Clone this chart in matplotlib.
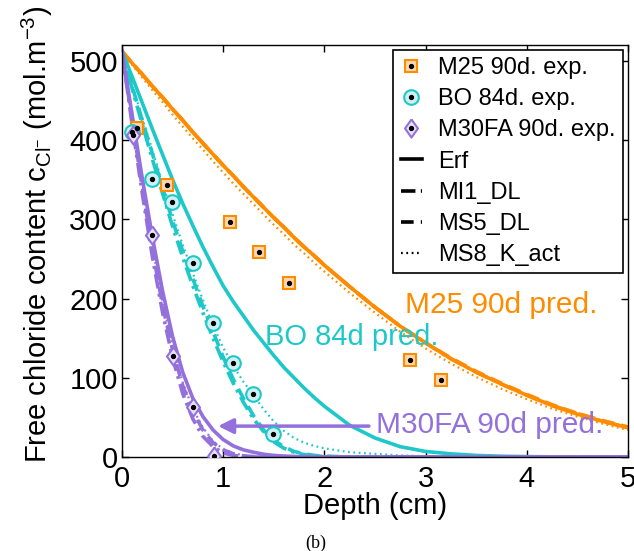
import matplotlib
matplotlib.use("Agg")
import matplotlib.pyplot as plt
from matplotlib.lines import Line2D
from matplotlib.legend_handler import HandlerTuple

plt.rcParams['font.family'] = ['Liberation Sans', 'DejaVu Sans']
plt.rcParams['mathtext.fontset'] = 'custom'
plt.rcParams['mathtext.rm'] = 'Liberation Sans'
plt.rcParams['mathtext.it'] = 'Liberation Sans:italic'

# ---------------- data ----------------
depth = [0, 0.1, 0.2, 0.3, 0.4, 0.5, 0.6, 0.7, 0.8, 0.9, 1.0, 1.1, 1.2, 1.3, 1.4,
         1.5, 1.6, 1.7, 1.8, 1.9, 2.0, 2.25, 2.5, 2.75, 3.0, 3.25, 3.5, 3.75,
         4.0, 4.25, 4.5, 4.75, 5.0]

m25_erf = [512, 497, 483, 468, 454, 439, 425, 410, 396, 382, 368, 355, 341, 328, 315,
           302, 290, 277, 265, 254, 242, 215, 189, 165, 144, 124, 107, 92,
           78, 65, 54, 45, 37]
m25_mi1 = [512, 497, 483, 468, 454, 439, 425, 410, 396, 382, 368, 355, 341, 328, 315,
           302, 290, 277, 265, 254, 242, 215, 189, 165, 144, 124, 107, 92,
           78, 65, 55, 45, 37]
m25_ms5 = [512, 497, 483, 468, 454, 439, 425, 410, 396, 382, 368, 355, 341, 328, 315,
           302, 290, 277, 265, 254, 242, 215, 189, 165, 144, 125, 108, 93,
           79, 66, 55, 46, 38]
m25_ms8 = [512, 495, 479, 463, 448, 432, 417, 402, 388, 373, 359, 345, 332, 319, 306,
           293, 281, 268, 257, 245, 234, 207, 182, 158, 137, 118, 101, 86,
           73, 61, 51, 42, 34]

bo_erf = [512, 480, 447, 414, 382, 350, 320, 292, 265, 240, 216, 196, 178, 160, 144,
          128, 113, 100, 87, 75, 64, 40, 24, 13, 7, 4, 2, 1,
          0.5, 0.2, 0, 0, 0]
bo_mi1 = [512, 465, 420, 376, 333, 291, 252, 216, 182, 150, 120, 93, 69, 48, 32,
          19, 11, 6, 3, 1.5, 0.7, 0, 0, 0, 0, 0, 0, 0,
          0, 0, 0, 0, 0]
bo_ms5 = [512, 468, 425, 383, 340, 298, 260, 225, 190, 158, 126, 98, 74, 52, 34,
          21, 13, 7, 4, 2, 1, 0, 0, 0, 0, 0, 0, 0,
          0, 0, 0, 0, 0]
bo_ms8 = [512, 470, 428, 387, 346, 306, 268, 232, 198, 166, 138, 115, 95, 78, 60,
          45, 33, 24, 18, 14, 11, 6, 4, 2, 1, 0.5, 0, 0,
          0, 0, 0, 0, 0]

fa_erf = [512, 432, 352, 278, 210, 152, 107, 74, 51, 34, 22, 14, 9, 6, 3.5,
          2, 1.2, 0.7, 0.4, 0.2, 0.1, 0, 0, 0, 0, 0, 0, 0,
          0, 0, 0, 0, 0]
fa_mi1 = [512, 420, 333, 253, 183, 125, 80, 48, 26, 13, 5, 2, 0.5, 0, 0,
          0, 0, 0, 0, 0, 0, 0, 0, 0, 0, 0, 0, 0,
          0, 0, 0, 0, 0]
fa_ms5 = [512, 425, 340, 262, 192, 135, 90, 58, 34, 18, 9, 4, 1.5, 0.5, 0,
          0, 0, 0, 0, 0, 0, 0, 0, 0, 0, 0, 0, 0,
          0, 0, 0, 0, 0]
fa_ms8 = [512, 427, 343, 266, 196, 139, 94, 61, 37, 20, 10, 5, 2, 0.7, 0.2,
          0, 0, 0, 0, 0, 0, 0, 0, 0, 0, 0, 0, 0,
          0, 0, 0, 0, 0]

m25_exp_x = [0.15, 0.44, 1.07, 1.35, 1.65, 2.85, 3.15]
m25_exp_y = [415, 343, 297, 259, 219, 123, 97]
bo_exp_x = [0.10, 0.30, 0.49, 0.70, 0.90, 1.10, 1.29, 1.49]
bo_exp_y = [410, 351, 322, 245, 169, 119, 79, 29]
fa_exp_x = [0.11, 0.30, 0.50, 0.70, 0.91]
fa_exp_y = [406, 280, 128, 63, 1]

legend_labels = ['M25 90d. exp.', 'BO 84d. exp.', 'M30FA 90d. exp.',
                 'Erf', 'MI1_DL', 'MS5_DL', 'MS8_K_act']

# ---------------- style ----------------
c_or = '#FF8C00'
c_cy = '#1EC8C8'
c_pu = '#9370DB'
f_or = '#FFD7AE'
f_cy = '#CFF0F0'
f_pu = '#E9E2F7'

fig = plt.figure(figsize=(6.34, 5.51), dpi=100)
ax = fig.add_axes([122/634, 1-457/551, 506/634, 412/551])

lw_thick = 2.6
styles = {'erf': ('-', lw_thick), 'mi1': ((0, (4.0, 1.5, 0.8, 1.5)), lw_thick),
          'ms5': ((0, (3.5, 2.0)), lw_thick), 'ms8': ((0, (0.8, 1.6)), 1.6)}

for col, curves in [(c_or, [m25_erf, m25_mi1, m25_ms5, m25_ms8]),
                    (c_cy, [bo_erf, bo_mi1, bo_ms5, bo_ms8]),
                    (c_pu, [fa_erf, fa_mi1, fa_ms5, fa_ms8])]:
    for key, yv in zip(['erf', 'mi1', 'ms5', 'ms8'], curves):
        ls, lw = styles[key]
        ax.plot(depth, yv, color=col, linestyle=ls, linewidth=lw, zorder=2)

diamond = [(0, 1), (0.72, 0), (0, -1), (-0.72, 0), (0, 1)]

def exp_marker(xs, ys, marker, ms, ec, fc):
    h1, = ax.plot(xs, ys, linestyle='none', marker=marker, markersize=ms,
                  markeredgecolor=ec, markerfacecolor=fc, markeredgewidth=1.5, zorder=4)
    h2, = ax.plot(xs, ys, linestyle='none', marker='o', markersize=2.8,
                  markeredgecolor='black', markerfacecolor='black', zorder=5)
    return (h1, h2)

hm25 = exp_marker(m25_exp_x, m25_exp_y, 's', 8.5, c_or, f_or)
hbo = exp_marker(bo_exp_x, bo_exp_y, 'o', 10.5, c_cy, f_cy)
hfa = exp_marker(fa_exp_x, fa_exp_y, diamond, 13, c_pu, f_pu)

hl = [Line2D([], [], color='black', linestyle=styles[k][0], linewidth=styles[k][1])
      for k in ['erf', 'mi1', 'ms5', 'ms8']]

leg = ax.legend([hm25, hbo, hfa] + hl, legend_labels,
                handler_map={tuple: HandlerTuple(ndivide=1, pad=0)},
                loc='upper right', bbox_to_anchor=(0.99, 0.988), borderaxespad=0,
                fontsize=17, handlelength=0.9, handletextpad=0.7, labelspacing=0.39,
                borderpad=0.3, fancybox=False, framealpha=1, edgecolor='black')
leg.get_frame().set_linewidth(1.2)
leg.set_zorder(6)

# annotations
ax.text(2.80, 192, 'M25 90d pred.', color=c_or, fontsize=21.5, va='center', ha='left', zorder=3)
ax.text(1.41, 151, 'BO 84d pred.', color=c_cy, fontsize=21, va='center', ha='left', zorder=3)
ax.text(2.51, 40, 'M30FA 90d pred.', color=c_pu, fontsize=21.5, va='center', ha='left', zorder=3)
ax.annotate('', xy=(0.95, 39), xytext=(2.44, 39),
            arrowprops=dict(arrowstyle='-|>,head_length=0.9,head_width=0.45',
                            color=c_pu, lw=2.5, shrinkA=0, shrinkB=0), zorder=3)

ax.set_xlim(0, 5)
ax.set_ylim(0, 520)
ax.set_xticks([0, 1, 2, 3, 4, 5])
ax.set_yticks([0, 100, 200, 300, 400, 500])
ax.tick_params(direction='in', length=5, width=1, top=True, right=True,
               labelsize=21)
ax.tick_params(axis='x', pad=6)
ax.tick_params(axis='y', pad=3)
for s in ax.spines.values():
    s.set_linewidth(1.0)

ax.set_xlabel('Depth (cm)', fontsize=21, labelpad=-1)
ax.set_ylabel(r'Free chloride content c$_{\mathrm{Cl}^{-}}$ (mol.m$^{-3}$)', fontsize=21)
ax.yaxis.set_label_coords(-0.132, 0.539)

fig.text(316/634, 1-543/551, '(b)', family='Liberation Serif',
         fontsize=13, ha='center', va='center')

fig.savefig('out.png', dpi=100)
